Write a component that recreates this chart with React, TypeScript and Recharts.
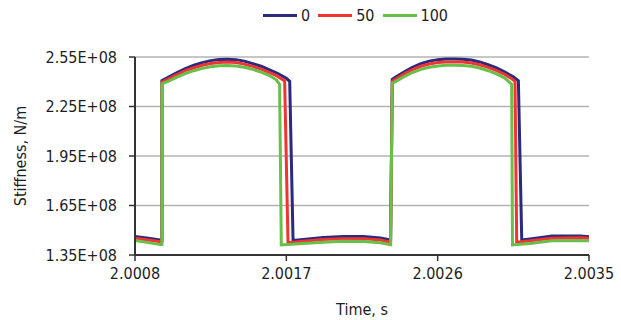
import { CartesianGrid, Legend, Line, LineChart, XAxis, YAxis } from 'recharts'

// time (s) and stiffness (x1E+08 N/m) for each series
const TIME_0 = [
  2.0008, 2.00088, 2.00095, 2.00096,
  2.00096, 2.001, 2.00105, 2.0011, 2.00115, 2.0012, 2.00125, 2.0013, 2.00135, 2.0014, 2.00145, 2.0015, 2.00155,
  2.0016, 2.00165, 2.0017, 2.00172,
  2.00174, 2.0018, 2.00192, 2.00204, 2.00216, 2.00226, 2.00232,
  2.00233, 2.00237, 2.00241, 2.00245, 2.0025, 2.00255, 2.0026, 2.00265, 2.0027, 2.00275, 2.0028, 2.00285,
  2.0029, 2.00295, 2.003, 2.00305, 2.00308,
  2.0031, 2.00315, 2.00328, 2.00345, 2.0035,
]
const STIFF_0 = [
  1.462, 1.452, 1.441, 1.441,
  2.406, 2.428, 2.455, 2.48, 2.5, 2.516, 2.528, 2.535, 2.537, 2.534, 2.525, 2.51, 2.494,
  2.4725, 2.45, 2.421, 2.403,
  1.438, 1.444, 1.456, 1.462, 1.462, 1.453, 1.441,
  2.415, 2.44, 2.465, 2.488, 2.51, 2.525, 2.534, 2.538, 2.538, 2.537, 2.532, 2.52,
  2.503, 2.484, 2.458, 2.43, 2.406,
  1.441, 1.447, 1.465, 1.465, 1.46,
]

const TIME_50 = [
  2.0008, 2.00088, 2.00095, 2.00096,
  2.00096, 2.001, 2.00105, 2.0011, 2.00115, 2.0012, 2.00125, 2.0013, 2.00135, 2.0014, 2.00145, 2.0015, 2.00155,
  2.0016, 2.00165, 2.00169,
  2.00171, 2.0018, 2.00192, 2.00204, 2.00216, 2.00226, 2.00232,
  2.00233, 2.00237, 2.00241, 2.00245, 2.0025, 2.00255, 2.0026, 2.00265, 2.0027, 2.00275, 2.0028, 2.00285,
  2.0029, 2.00295, 2.003, 2.00304, 2.00306,
  2.00307, 2.00315, 2.00328, 2.00345, 2.0035,
]
const STIFF_50 = [
  1.452, 1.441, 1.43, 1.43,
  2.398, 2.418, 2.444, 2.467, 2.485, 2.5, 2.511, 2.517, 2.519, 2.516, 2.507, 2.493, 2.477,
  2.456, 2.432, 2.405,
  1.425, 1.433, 1.444, 1.449, 1.449, 1.441, 1.428,
  2.402, 2.428, 2.452, 2.474, 2.494, 2.508, 2.516, 2.52, 2.52, 2.519, 2.514, 2.503,
  2.487, 2.468, 2.444, 2.418, 2.402,
  1.428, 1.436, 1.452, 1.454, 1.452,
]

const TIME_100 = [
  2.0008, 2.00088, 2.00095, 2.00096,
  2.00096, 2.001, 2.00105, 2.0011, 2.00115, 2.0012, 2.00125, 2.0013, 2.00135, 2.0014, 2.00145, 2.0015, 2.00155,
  2.0016, 2.00164, 2.00166,
  2.00167, 2.0018, 2.00192, 2.00204, 2.00216, 2.00226, 2.00232,
  2.00233, 2.00237, 2.00241, 2.00245, 2.0025, 2.00255, 2.0026, 2.00265, 2.0027, 2.00275, 2.0028, 2.00285,
  2.0029, 2.00295, 2.003, 2.00304,
  2.003045, 2.00315, 2.00328, 2.00345, 2.0035,
]
const STIFF_100 = [
  1.438, 1.425, 1.413, 1.413,
  2.388, 2.404, 2.428, 2.45, 2.467, 2.481, 2.491, 2.497, 2.499, 2.496, 2.488, 2.475, 2.458,
  2.438, 2.412, 2.385,
  1.411, 1.42, 1.428, 1.433, 1.432, 1.424, 1.413,
  2.39, 2.413, 2.436, 2.456, 2.475, 2.488, 2.496, 2.5, 2.5, 2.499, 2.494, 2.483,
  2.467, 2.448, 2.422, 2.385,
  1.411, 1.42, 1.436, 1.438, 1.436,
]

const X_TICKS = [2.0008, 2.0017, 2.0026, 2.0035]
const Y_TICKS = [1.35e8, 1.65e8, 1.95e8, 2.25e8, 2.55e8]

const FONT = '"Liberation Sans Narrow", "DejaVu Sans Condensed", "Liberation Sans", sans-serif'
const TEXT = '#1e1e1e'

const SERIES = [
  { name: '0', color: '#2c2a7c', time: TIME_0, stiff: STIFF_0 },
  { name: '50', color: '#f03434', time: TIME_50, stiff: STIFF_50 },
  { name: '100', color: '#6abf4b', time: TIME_100, stiff: STIFF_100 },
].map((s) => ({ ...s, data: s.time.map((t, i) => ({ t, v: s.stiff[i] * 1e8 })) }))

function LegendRow() {
  return (
    <div
      style={{
        display: 'flex',
        justifyContent: 'center',
        gap: 8,
        paddingLeft: 90,
        fontFamily: FONT,
        fontSize: 16,
        color: TEXT,
      }}
    >
      {SERIES.map((s) => (
        <span key={s.name} style={{ display: 'flex', alignItems: 'center', gap: 4 }}>
          <span style={{ display: 'inline-block', width: 34, height: 3, background: s.color }} />
          {s.name}
        </span>
      ))}
    </div>
  )
}

export default function App() {
  return (
    <div style={{ position: 'absolute', left: 0, top: 0, width: 621, height: 320, background: '#fff' }}>
      <LineChart width={621} height={320} margin={{ top: 57, right: 32, bottom: 0, left: 0 }}>
        <CartesianGrid horizontal vertical={false} stroke="#b3b3b3" strokeWidth={1.5} />
        <XAxis
          dataKey="t"
          type="number"
          domain={[2.0008, 2.0035]}
          ticks={X_TICKS}
          allowDataOverflow
          height={65}
          tickFormatter={(v: number) => v.toFixed(4)}
          tick={{ fill: TEXT, fontSize: 16, fontFamily: FONT }}
          tickSize={6}
          tickMargin={7}
          axisLine={{ stroke: '#333', strokeWidth: 2 }}
          tickLine={{ stroke: '#333', strokeWidth: 1.5 }}
          label={{ value: 'Time, s', position: 'insideBottom', offset: 5, fill: TEXT, fontSize: 16, fontFamily: FONT }}
        />
        <YAxis
          type="number"
          domain={[1.35e8, 2.55e8]}
          ticks={Y_TICKS}
          allowDataOverflow
          width={135}
          tickFormatter={(v: number) => `${(v / 1e8).toFixed(2)}E+08`}
          tick={{ fill: TEXT, fontSize: 16, fontFamily: FONT }}
          tickSize={6}
          tickMargin={12}
          axisLine={{ stroke: '#333', strokeWidth: 2 }}
          tickLine={{ stroke: '#333', strokeWidth: 1.5 }}
          label={{
            value: 'Stiffness, N/m',
            angle: -90,
            position: 'insideLeft',
            offset: 20,
            fill: TEXT,
            fontSize: 16,
            fontFamily: FONT,
            style: { textAnchor: 'middle' },
          }}
        />
        <Legend
          verticalAlign="middle"
          align="center"
          wrapperStyle={{ top: 6, left: 0, width: 621 }}
          content={() => <LegendRow />}
        />
        {SERIES.map((s) => (
          <Line
            key={s.name}
            data={s.data}
            dataKey="v"
            name={s.name}
            type="linear"
            stroke={s.color}
            strokeWidth={3}
            dot={false}
            isAnimationActive={false}
          />
        ))}
      </LineChart>
    </div>
  )
}
